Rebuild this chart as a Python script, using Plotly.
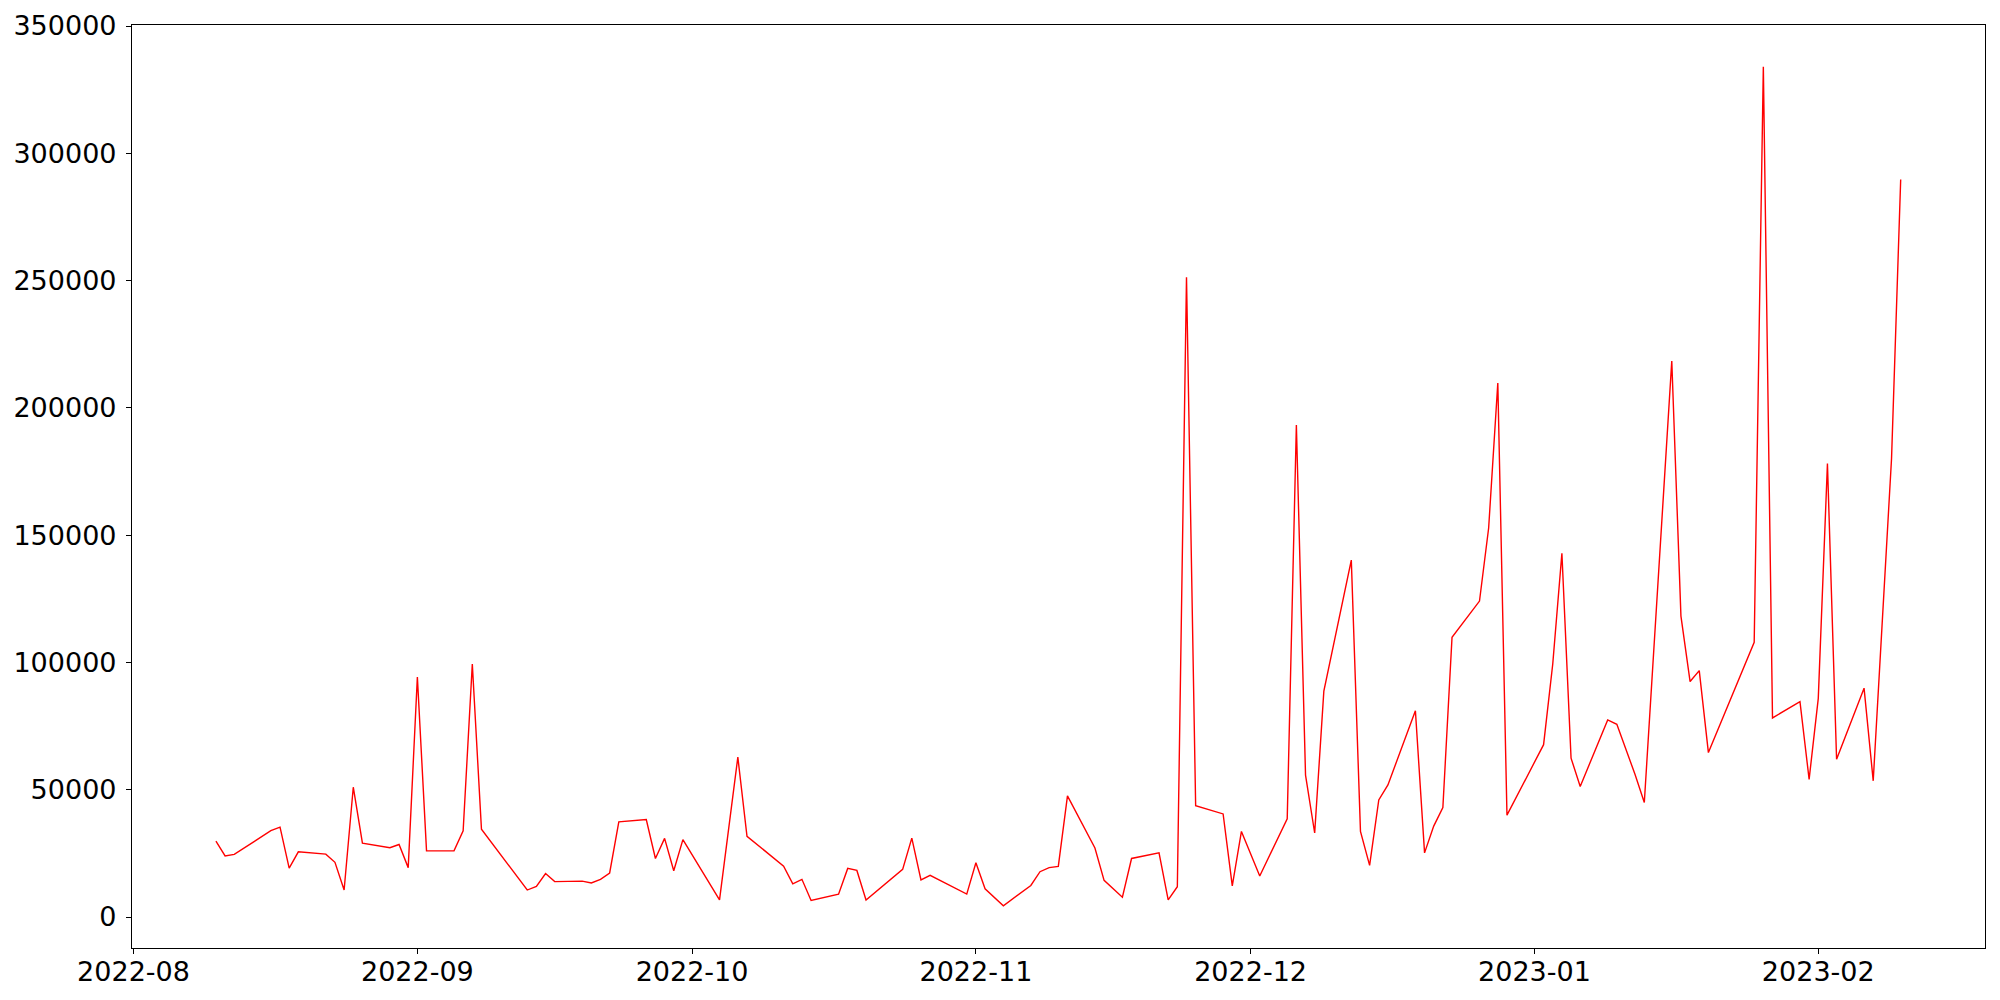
import plotly.graph_objects as go

dates = [
    "2022-08-10", "2022-08-11", "2022-08-12", "2022-08-16", "2022-08-17", "2022-08-18", "2022-08-19",
    "2022-08-22", "2022-08-23", "2022-08-24", "2022-08-25", "2022-08-26", "2022-08-29", "2022-08-30",
    "2022-08-31", "2022-09-01", "2022-09-02", "2022-09-05", "2022-09-06", "2022-09-07", "2022-09-08",
    "2022-09-13", "2022-09-14", "2022-09-15", "2022-09-16", "2022-09-19", "2022-09-20", "2022-09-21",
    "2022-09-22", "2022-09-23", "2022-09-26", "2022-09-27", "2022-09-28", "2022-09-29", "2022-09-30",
    "2022-10-04", "2022-10-06", "2022-10-07", "2022-10-11", "2022-10-12", "2022-10-13", "2022-10-14",
    "2022-10-17", "2022-10-18", "2022-10-19", "2022-10-20", "2022-10-24", "2022-10-25", "2022-10-26",
    "2022-10-27", "2022-10-31", "2022-11-01", "2022-11-02", "2022-11-04", "2022-11-07", "2022-11-08",
    "2022-11-09", "2022-11-10", "2022-11-11", "2022-11-14", "2022-11-15", "2022-11-17", "2022-11-18",
    "2022-11-21", "2022-11-22", "2022-11-23", "2022-11-24", "2022-11-25", "2022-11-28", "2022-11-29",
    "2022-11-30", "2022-12-02", "2022-12-05", "2022-12-06", "2022-12-07", "2022-12-08", "2022-12-09",
    "2022-12-12", "2022-12-13", "2022-12-14", "2022-12-15", "2022-12-16", "2022-12-19", "2022-12-20",
    "2022-12-21", "2022-12-22", "2022-12-23", "2022-12-26", "2022-12-27", "2022-12-28", "2022-12-29",
    "2023-01-02", "2023-01-03", "2023-01-04", "2023-01-05", "2023-01-06", "2023-01-09", "2023-01-10",
    "2023-01-12", "2023-01-13", "2023-01-16", "2023-01-17", "2023-01-18", "2023-01-19", "2023-01-20",
    "2023-01-25", "2023-01-26", "2023-01-27", "2023-01-30", "2023-01-31", "2023-02-01", "2023-02-02",
    "2023-02-03", "2023-02-06", "2023-02-07", "2023-02-09", "2023-02-10",
]

values = [
    29800, 24000, 24600, 33900, 35300, 19200, 25600,
    24700, 21500, 10600, 51000, 29000, 27200, 28500,
    19400, 94300, 26000, 26000, 33900, 99400, 34500,
    10600, 12000, 17100, 13900, 14100, 13400, 14800,
    17300, 37400, 38300, 23000, 30900, 18200, 30400,
    6700, 62800, 31700, 20000, 13000, 14800, 6500,
    9000, 19100, 18300, 6700, 18700, 31000, 14600,
    16400, 9000, 21300, 11100, 4400, 12400, 17800,
    19400, 19900, 47600, 27100, 14400, 7800, 23000,
    25200, 6700, 11900, 251300, 43700, 40500, 12200,
    33600, 16100, 38600, 193300, 55700, 33000, 88700,
    140200, 33600, 20300, 46000, 51900, 81000, 25200,
    35700, 43000, 109900, 124100, 152800, 209800, 40000,
    67700, 99400, 142900, 62400, 51300, 77400, 75700,
    55900, 45000, 218400, 118200, 92500, 96800, 64600,
    107900, 334000, 78200, 84600, 54100, 85900, 178100,
    62000, 89900, 53500, 180000, 289700,
]

y_ticks = [0, 50000, 100000, 150000, 200000, 250000, 300000, 350000]

fig = go.Figure()
fig.add_trace(go.Scatter(x=dates, y=values, mode="lines",
                         line=dict(color="red", width=1.4)))

# the page body keeps its 8px margin, so the figure is sized to fit inside it
fig.update_layout(
    width=1984, height=984,
    margin=dict(l=124, r=7, t=17, b=44),
    paper_bgcolor="white", plot_bgcolor="white",
    showlegend=False,
    font=dict(family="DejaVu Sans", size=27, color="black"),
)
fig.update_xaxes(
    range=["2022-07-31 20:00", "2023-02-19 05:00"],
    dtick="M1", tick0="2022-08-01", tickformat="%Y-%m",
    showgrid=False, zeroline=False, automargin=False,
    showline=True, linecolor="black", linewidth=1.2, mirror=True,
    ticks="outside", ticklen=5, tickwidth=1.1, tickcolor="black",
    ticklabelstandoff=-6,
)
fig.update_yaxes(
    range=[-12170, 350400],
    tickvals=y_ticks, tickformat="d",
    showgrid=False, zeroline=False, automargin=False,
    showline=True, linecolor="black", linewidth=1.2, mirror=True,
    ticks="outside", ticklen=5, tickwidth=1.1, tickcolor="black",
    ticklabelstandoff=4,
)

fig.write_html("out.html")
